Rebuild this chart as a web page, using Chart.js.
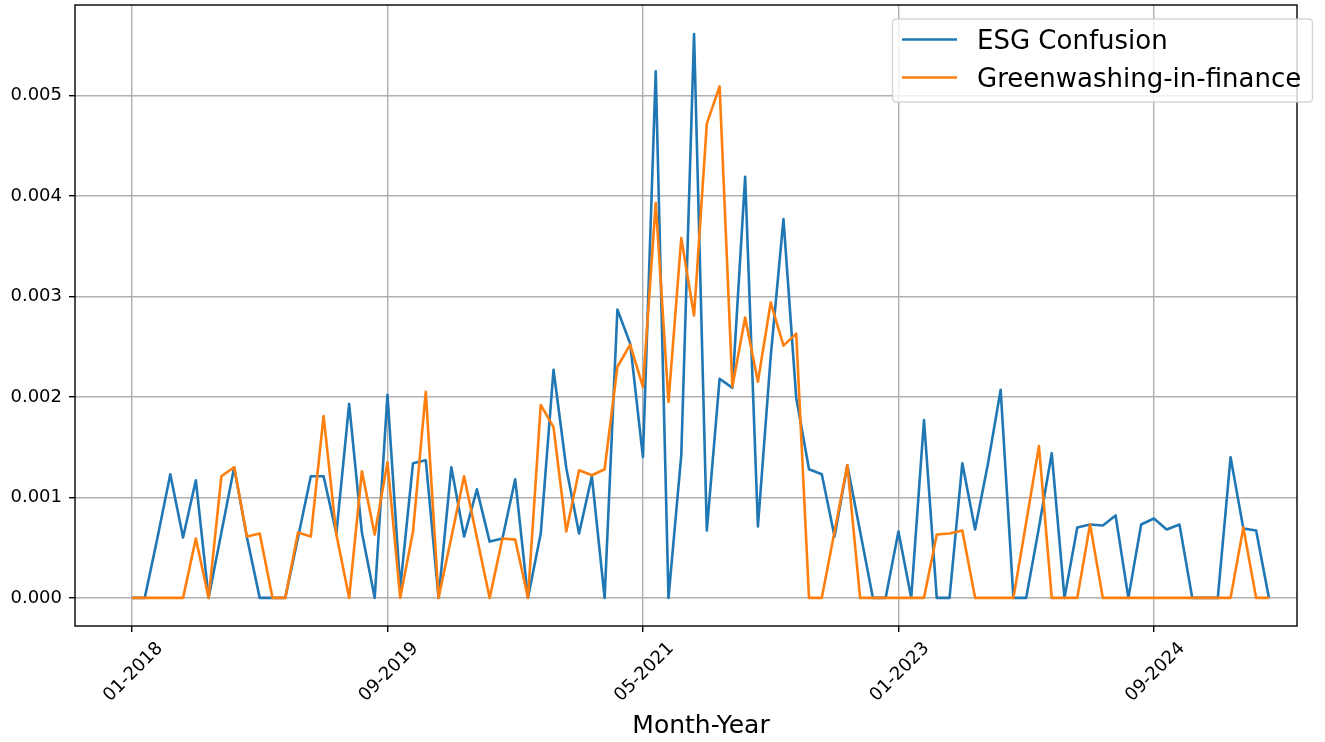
<!DOCTYPE html>
<html>
<head>
<meta charset="utf-8">
<script src="https://cdn.jsdelivr.net/npm/chart.js@4.4.0/dist/chart.umd.min.js"></script>
<style>
  html, body { margin: 0; padding: 0; background: #ffffff; }
  #wrap { width: 1325px; height: 742px; position: relative; }
</style>
</head>
<body>
<div id="wrap"><canvas id="c" width="1325" height="742"></canvas></div>
<script>
const categories = [
  "01-2018","02-2018","03-2018","04-2018","05-2018","06-2018","07-2018","08-2018","09-2018","10-2018","11-2018","12-2018",
  "01-2019","02-2019","03-2019","04-2019","05-2019","06-2019","07-2019","08-2019","09-2019","10-2019","11-2019","12-2019",
  "01-2020","02-2020","03-2020","04-2020","05-2020","06-2020","07-2020","08-2020","09-2020","10-2020","11-2020","12-2020",
  "01-2021","02-2021","03-2021","04-2021","05-2021","06-2021","07-2021","08-2021","09-2021","10-2021","11-2021","12-2021",
  "01-2022","02-2022","03-2022","04-2022","05-2022","06-2022","07-2022","08-2022","09-2022","10-2022","11-2022","12-2022",
  "01-2023","02-2023","03-2023","04-2023","05-2023","06-2023","07-2023","08-2023","09-2023","10-2023","11-2023","12-2023",
  "01-2024","02-2024","03-2024","04-2024","05-2024","06-2024","07-2024","08-2024","09-2024","10-2024","11-2024","12-2024",
  "01-2025","02-2025","03-2025","04-2025","05-2025","06-2025"
];

const esgConfusion = [
  0, 0, 0.0006, 0.00123, 0.0006, 0.00117, 0, 0.00065, 0.0013, 0.0006,
  0, 0, 0, 0.0006, 0.00121, 0.00121, 0.00064, 0.00193, 0.00065, 0,
  0.00202, 0.0001, 0.00134, 0.00137, 0, 0.0013, 0.00061, 0.00108, 0.00056, 0.00059,
  0.00118, 0, 0.00064, 0.00227, 0.00129, 0.00064, 0.00121, 0, 0.00287, 0.00253,
  0.0014, 0.00524, 0, 0.00142, 0.00561, 0.00067, 0.00218, 0.00209, 0.00419, 0.00071,
  0.0024, 0.00377, 0.00199, 0.00128, 0.00123, 0.00061, 0.00132, 0.00066, 0, 0,
  0.00066, 0, 0.00177, 0, 0, 0.00134, 0.00068, 0.00133, 0.00207, 0,
  0, 0.0007, 0.00144, 0, 0.0007, 0.00073, 0.00072, 0.00082, 0, 0.00073,
  0.00079, 0.00068, 0.00073, 0, 0, 0, 0.0014, 0.00069, 0.00067, 0
];

const greenwashingInFinance = [
  0, 0, 0, 0, 0, 0.00059, 0, 0.00121, 0.0013, 0.00061,
  0.00064, 0, 0, 0.00065, 0.00061, 0.00181, 0.00063, 0, 0.00126, 0.00063,
  0.00135, 0, 0.00066, 0.00205, 0, 0.0006, 0.00121, 0.0006, 0, 0.00059,
  0.00058, 0, 0.00192, 0.0017, 0.00066, 0.00127, 0.00122, 0.00128, 0.0023, 0.00252,
  0.0021, 0.00393, 0.00195, 0.00358, 0.00281, 0.00472, 0.00509, 0.0021, 0.00279, 0.00215,
  0.00294, 0.00251, 0.00263, 0, 0, 0.00066, 0.00132, 0, 0, 0,
  0, 0, 0, 0.00063, 0.00064, 0.00067, 0, 0, 0, 0,
  0.00075, 0.00151, 0, 0, 0, 0.00073, 0, 0, 0, 0,
  0, 0, 0, 0, 0, 0, 0, 0.0007, 0, 0
];

const seriesNames = ["ESG Confusion", "Greenwashing-in-finance"];
const xTickLabels = ["01-2018", "09-2019", "05-2021", "01-2023", "09-2024"];
const yTickValues = [0, 0.001, 0.002, 0.003, 0.004, 0.005];
const xAxisTitle = "Month-Year";

const FONT = "'DejaVu Sans', sans-serif";
const BLUE = "#1f77b4";
const ORANGE = "#ff7f0e";

const toPoints = arr => arr.map((v, i) => ({ x: i, y: v }));

const framePlugin = {
  id: 'frame',
  afterDatasetsDraw(chart) {
    const { ctx, chartArea: a } = chart;
    ctx.save();
    ctx.strokeStyle = '#000000';
    ctx.lineWidth = 1.4;
    ctx.strokeRect(a.left, a.top, a.right - a.left, a.bottom - a.top);
    ctx.restore();
  }
};

const legendPlugin = {
  id: 'boxLegend',
  afterDraw(chart) {
    const { ctx } = chart;
    ctx.save();
    const x0 = 892.5, y0 = 19, w = 420, h = 83, r = 4;
    ctx.beginPath();
    ctx.moveTo(x0 + r, y0);
    ctx.lineTo(x0 + w - r, y0);
    ctx.quadraticCurveTo(x0 + w, y0, x0 + w, y0 + r);
    ctx.lineTo(x0 + w, y0 + h - r);
    ctx.quadraticCurveTo(x0 + w, y0 + h, x0 + w - r, y0 + h);
    ctx.lineTo(x0 + r, y0 + h);
    ctx.quadraticCurveTo(x0, y0 + h, x0, y0 + h - r);
    ctx.lineTo(x0, y0 + r);
    ctx.quadraticCurveTo(x0, y0, x0 + r, y0);
    ctx.closePath();
    ctx.fillStyle = 'rgba(255,255,255,0.8)';
    ctx.fill();
    ctx.strokeStyle = 'rgba(204,204,204,0.8)';
    ctx.lineWidth = 1.4;
    ctx.stroke();

    const rows = [39.5, 77.5];
    const baselines = [49.3, 86.7];
    chart.data.datasets.forEach((ds, i) => {
      ctx.beginPath();
      ctx.strokeStyle = ds.borderColor;
      ctx.lineWidth = 2.6;
      ctx.moveTo(902, rows[i]);
      ctx.lineTo(957, rows[i]);
      ctx.stroke();
      ctx.fillStyle = '#000000';
      ctx.font = "26px " + FONT;
      ctx.textAlign = 'left';
      ctx.textBaseline = 'alphabetic';
      ctx.fillText(ds.label, 977, baselines[i]);
    });

    ctx.font = "25px " + FONT;
    ctx.textAlign = 'center';
    ctx.textBaseline = 'alphabetic';
    ctx.fillStyle = '#000000';
    ctx.fillText(xAxisTitle, 701, 733);
    ctx.restore();
  }
};

new Chart(document.getElementById('c'), {
  type: 'line',
  data: {
    datasets: [
      {
        label: seriesNames[0],
        data: toPoints(esgConfusion),
        borderColor: BLUE,
        backgroundColor: BLUE,
        borderWidth: 2.6,
        pointRadius: 0,
        tension: 0,
        fill: false,
        borderJoinStyle: 'round',
        order: 1
      },
      {
        label: seriesNames[1],
        data: toPoints(greenwashingInFinance),
        borderColor: ORANGE,
        backgroundColor: ORANGE,
        borderWidth: 2.6,
        pointRadius: 0,
        tension: 0,
        fill: false,
        borderJoinStyle: 'round',
        order: 0
      }
    ]
  },
  options: {
    responsive: false,
    animation: false,
    devicePixelRatio: 1,
    layout: { padding: { top: 5, right: 28, left: 0, bottom: 0 } },
    plugins: {
      legend: { display: false },
      tooltip: { enabled: false },
      title: { display: false }
    },
    scales: {
      x: {
        type: 'linear',
        min: -4.46,
        max: 91.2,
        afterFit(s) { s.height = 116; s.paddingLeft = 0; s.paddingRight = 0; },
        afterBuildTicks(s) { s.ticks = xTickLabels.map(l => ({ value: categories.indexOf(l) })); },
        border: { display: false },
        grid: { color: '#b0b0b0', lineWidth: 1.4, tickColor: '#000000', tickLength: 6, tickWidth: 1.4 },
        ticks: {
          autoSkip: false,
          maxRotation: 45,
          minRotation: 45,
          labelOffset: 28,
          padding: 6,
          color: '#000000',
          font: { family: FONT, size: 18 },
          callback: (v) => categories[v]
        },
        title: { display: false }
      },
      y: {
        type: 'linear',
        min: -0.00028,
        max: 0.0059,
        afterFit(s) { s.width = 75; s.paddingTop = 0; s.paddingBottom = 0; },
        afterBuildTicks(s) { s.ticks = yTickValues.map(v => ({ value: v })); },
        border: { display: false },
        grid: { color: '#b0b0b0', lineWidth: 1.4, tickColor: '#000000', tickLength: 6, tickWidth: 1.4 },
        ticks: {
          padding: 7,
          color: '#000000',
          font: { family: FONT, size: 18 },
          callback: (v) => Number(v).toFixed(3)
        }
      }
    }
  },
  plugins: [framePlugin, legendPlugin]
});
</script>
</body>
</html>
